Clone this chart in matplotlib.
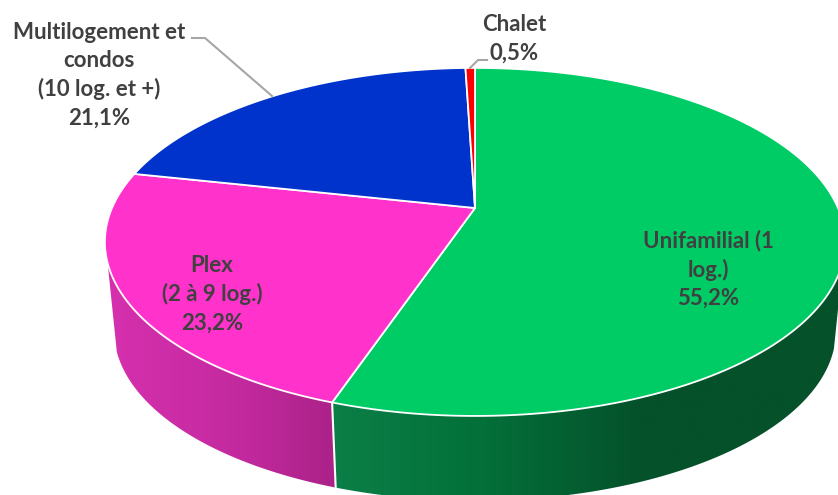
import numpy as np
import matplotlib
matplotlib.use("Agg")
import matplotlib.pyplot as plt
from matplotlib.patches import Polygon
from matplotlib.colors import LinearSegmentedColormap

# Data
categories = ["Unifamilial (1\nlog.)", "Plex\n(2 à 9 log.)",
              "Multilogement et\ncondos\n(10 log. et +)", "Chalet"]
values = [55.2, 23.2, 21.1, 0.5]
value_labels = ["55,2%", "23,2%", "21,1%", "0,5%"]
colors = ["#00CC66", "#FF33CC", "#0033CC", "#FF0000"]

# Style / layout (pixels)
W, H = 838, 495
CX, CY = 475, 208
A, B, K = 363.0, 167.4, 0.195
DEPTH, SHRINK = 90.0, 0.975
label_pos = [(708, 269), (212, 294), (99, 75), (514, 39)]
FONT = "Lato"
FS = 16.0
TXT = "#404040"
LEAD = "#A6A6A6"


def top(theta):
    t = np.radians(theta)
    X, Y = np.sin(t), np.cos(t)
    d = 1 + K * Y
    return CX + A * X / d, CY - B * Y / d


def bottom(theta):
    x, y = top(theta)
    return CX + SHRINK * (x - CX), CY + DEPTH + SHRINK * (y - CY)


def arc(fn, a, b, n=200):
    x, y = fn(np.linspace(a, b, n))
    return np.column_stack([x, y])


fig = plt.figure(figsize=(W / 100, H / 100), dpi=100)
ax = fig.add_axes([0, 0, 1, 1])
ax.axis("off")

edges = np.cumsum([0] + values) / sum(values) * 360

# Side walls, each with a horizontal gradient (stops run left to right in x)
walls = [
    (107.0, edges[1], [(0.0, "#0B7F47"), (0.3, "#036F39"), (0.47, "#045F31"),
                       (0.6, "#04512A"), (1.0, "#04512A")]),
    (edges[1], 252.0, [(0.0, "#D630AE"), (0.55, "#C42AA0"), (1.0, "#AB2288")]),
]
for a, b, stops in walls:
    poly = np.vstack([arc(top, a, b), arc(bottom, a, b)[::-1]])
    x0, x1 = poly[:, 0].min(), poly[:, 0].max()
    cmap = LinearSegmentedColormap.from_list("g", stops)
    im = ax.imshow(np.linspace(0, 1, 512)[None, :], cmap=cmap, aspect="auto",
                   extent=(x0, x1, poly[:, 1].max(), poly[:, 1].min()), zorder=1,
                   interpolation="bilinear")
    clip = Polygon(poly, closed=True, transform=ax.transData, fc="none", ec="none")
    ax.add_patch(clip)
    im.set_clip_path(clip)

# Separator between the two walls
ax.plot([top(edges[1])[0], bottom(edges[1])[0]],
        [top(edges[1])[1], bottom(edges[1])[1]], color="white", lw=1.5, zorder=2)

# Top faces
for i, c in enumerate(colors):
    pts = np.vstack([[CX, CY], arc(top, edges[i], edges[i + 1])])
    ax.add_patch(Polygon(pts, closed=True, fc=c, ec="white", lw=1.3, zorder=3,
                         joinstyle="round"))

# Leader lines
ax.plot([192, 205, 272], [38, 38, 96], color=LEAD, lw=1.5, zorder=4)
ax.plot([470, 478, 487], [68, 60, 60], color=LEAD, lw=1.5, zorder=4)

# Labels
for name, val, (x, y) in zip(categories, value_labels, label_pos):
    ax.text(x, y, f"{name}\n{val}", ha="center", va="center", family=FONT,
            weight="bold", fontsize=FS, color=TXT, linespacing=1.42, zorder=5)

ax.set_xlim(0, W)
ax.set_ylim(H, 0)
fig.savefig("out.png", dpi=100, facecolor="white")
